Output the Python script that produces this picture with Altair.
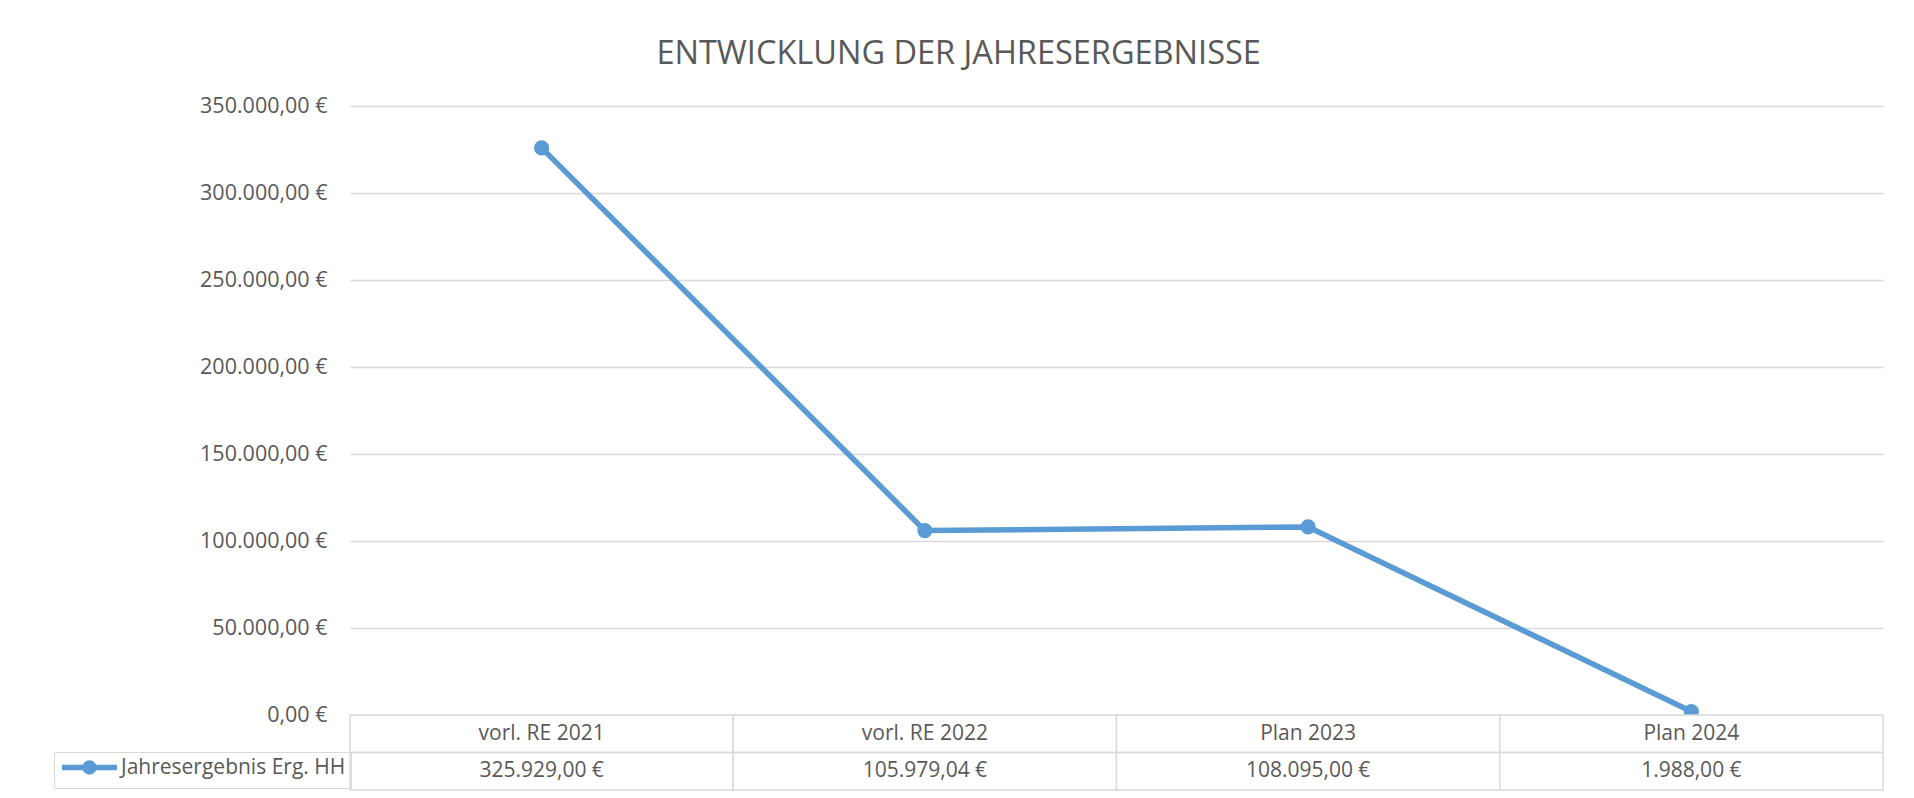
import altair as alt
import pandas as pd

# ---- data ----
categories = ["vorl. RE 2021", "vorl. RE 2022", "Plan 2023", "Plan 2024"]
values = [325929.00, 105979.04, 108095.00, 1988.00]
series_name = "Jahresergebnis Erg. HH"
y_ticks = [0, 50000, 100000, 150000, 200000, 250000, 300000, 350000]
table_rows = ["Kategorie", "Wert"]
title_text = "ENTWICKLUNG DER JAHRESERGEBNISSE"

# ---- style ----
BLUE = "#5B9BD5"
GRID = "#D9D9D9"
TEXT = "#595959"
FONT = "Open Sans"
PLOT_W, PLOT_H, TABLE_H = 1533, 609, 75

# legend symbol: line with a dot (units: 1 = 7 px for size 196)
LEGEND_SYMBOL = "M-3.93,0L3.93,0M0.64,0A0.64,0.64,0,1,1,-0.64,0A0.64,0.64,0,1,1,0.64,0Z"

df = pd.DataFrame({"Kategorie": categories, "Wert": values, "Reihe": series_name})

line = alt.Chart(df).mark_line(
    strokeWidth=5.5, strokeCap="round", strokeJoin="round",
    point=alt.OverlayMarkDef(filled=True, size=230, opacity=1),
).encode(
    x=alt.X("Kategorie:N", sort=categories, axis=None, scale=alt.Scale(padding=0.5)),
    y=alt.Y(
        "Wert:Q",
        scale=alt.Scale(domain=[0, 350000], nice=False),
        axis=alt.Axis(
            values=y_ticks, format="$,.2f", title=None, domain=False, ticks=False,
            labelPadding=23, labelFontSize=21.5, labelColor=TEXT, labelFont=FONT,
            gridColor=GRID, gridWidth=1.5,
        ),
    ),
    color=alt.Color(
        "Reihe:N",
        scale=alt.Scale(range=[BLUE]),
        legend=alt.Legend(
            title=None, orient="none", legendX=-296, legendY=PLOT_H + 37,
            symbolType=LEGEND_SYMBOL, symbolSize=196, symbolStrokeWidth=5.5,
            symbolFillColor=BLUE, symbolStrokeColor=BLUE, symbolOpacity=1,
            symbolOffset=20, labelOffset=21,
            labelFont=FONT, labelFontSize=21, labelColor=TEXT, labelLimit=400,
            strokeColor=GRID, padding=5,
        ),
    ),
).properties(width=PLOT_W, height=PLOT_H)

rows = []
for c, v in zip(categories, values):
    for r in table_rows:
        rows.append({"Kategorie": c, "Zeile": r, "Wert": v})
tdf = pd.DataFrame(rows)

tbase = alt.Chart(tdf).encode(
    x=alt.X("Kategorie:N", sort=categories, axis=None,
            scale=alt.Scale(paddingInner=0, paddingOuter=0)),
    y=alt.Y("Zeile:N", sort=table_rows, axis=None,
            scale=alt.Scale(paddingInner=0, paddingOuter=0)),
)
cells = tbase.mark_rect(fill="white", stroke=GRID, strokeWidth=1.5)
head = tbase.transform_filter(alt.datum.Zeile == "Kategorie").mark_text(
    font=FONT, fontSize=21, color=TEXT
).encode(text="Kategorie:N")
vals = tbase.transform_filter(alt.datum.Zeile == "Wert").mark_text(
    font=FONT, fontSize=21, color=TEXT
).encode(text=alt.Text("Wert:Q", format="$,.2f"))
table = alt.layer(cells, head, vals).properties(width=PLOT_W, height=TABLE_H)

chart = alt.vconcat(line, table, spacing=0, bounds="flush").properties(
    title=alt.TitleParams(
        title_text, anchor="middle", fontSize=32.5, font=FONT, color=TEXT,
        fontWeight="normal", offset=25, dx=-10,
    ),
    padding={"top": 29, "left": 45, "right": 10, "bottom": 4},
).configure(
    locale={"number": {"decimal": ",", "thousands": ".", "grouping": [3],
                       "currency": ["", " €"]}},
    view={"strokeWidth": 0, "stroke": "transparent"},
)

chart.save("out.html", embed_options={"renderer": "svg", "actions": False})
